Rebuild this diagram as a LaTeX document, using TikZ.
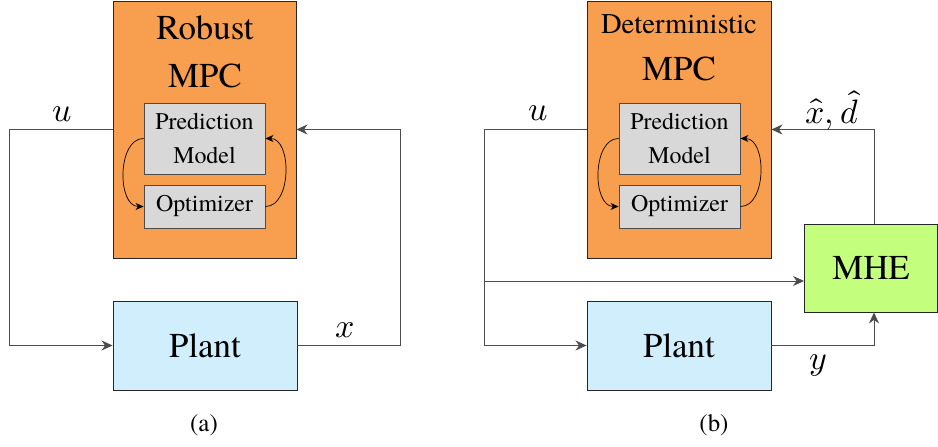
\documentclass[tikz,border=0pt]{standalone}
\usepackage{fontspec}
\usepackage{unicode-math}
\setmainfont{TeX Gyre Termes}
\newfontfamily\serifA{TeX Gyre Termes}
\setmathfont{Latin Modern Math}
\usetikzlibrary{arrows.meta}
\definecolor{mpcorange}{RGB}{247,158,79}
\definecolor{plantblue}{RGB}{209,238,252}
\definecolor{mhegreen}{RGB}{195,254,124}
\definecolor{subgray}{RGB}{216,216,216}
\tikzset{
  bigbox/.style={draw=black!85, line width=0.9bp, inner sep=0pt},
  subbox/.style={draw=black!70, fill=subgray, line width=0.9bp, inner sep=0pt, minimum width=121bp, font=\serifA\fontsize{24}{34}\selectfont, align=center},
  conn/.style={draw=black!70, line width=0.9bp},
  arr/.style={conn, -{Stealth[length=11bp,width=10bp,inset=3.5bp]}},
  carr/.style={draw=black, line width=0.7bp, -{Stealth[length=8bp,width=7bp,inset=2.5bp]}},
  titletext/.style={inner sep=0pt, font=\serifA\fontsize{35}{40}\selectfont},
  sigtext/.style={inner sep=0pt, font=\fontsize{34}{40}\selectfont},
  captext/.style={inner sep=0pt, font=\serifA\fontsize{25}{30}\selectfont}
}
\begin{document}
\begin{tikzpicture}[x=1bp,y=-1bp]
\useasboundingbox (0,0) rectangle (938,447);
% ---------- (a) ----------
\node[bigbox, fill=mpcorange, minimum width=183bp, minimum height=257bp] (mpcA) at (204.5,129.5) {};
\node[titletext] (tA1) at (205,28) {Robust};
\node[titletext] (tA2) at (205,76) {MPC};
\node[subbox, minimum height=71bp] (pmA) at (204.5,138.5) {Prediction\\Model};
\node[subbox, minimum height=43bp] (opA) at (204.5,206.5) {Optimizer};
\draw[carr] (pmA.west) to[out=180,in=180] (opA.west);
\draw[carr] (opA.east) to[out=0,in=0] (pmA.east);
\node[bigbox, fill=plantblue, minimum width=184bp, minimum height=89bp, font=\serifA\fontsize{35}{40}\selectfont] (plantA) at (205,345.5) {Plant};
\coordinate (la1) at (9,129.5);
\coordinate (la2) at (9,345.5);
\coordinate (ra1) at (400,129.5);
\coordinate (ra2) at (400,345.5);
\draw[arr] (mpcA.west) -- (la1) -- (la2) -- (plantA.west);
\draw[arr] (plantA.east) -- (ra2) -- (ra1) -- (mpcA.east);
\node[sigtext] (uA) at (62,114) {$u$};
\node[sigtext] (xA) at (345,330) {$x$};
\node[captext] (capA) at (204,425) {(a)};
% ---------- (b) ----------
\node[bigbox, fill=mpcorange, minimum width=184bp, minimum height=257bp] (mpcB) at (679,129.5) {};
\node[inner sep=0pt, font=\serifA\fontsize{28.7}{33}\selectfont] (tB1) at (679,24) {Deterministic};
\node[titletext] (tB2) at (679,69) {MPC};
\node[subbox, minimum height=71bp] (pmB) at (679.5,138.5) {Prediction\\Model};
\node[subbox, minimum height=43bp] (opB) at (679.5,206.5) {Optimizer};
\draw[carr] (pmB.west) to[out=180,in=180] (opB.west);
\draw[carr] (opB.east) to[out=0,in=0] (pmB.east);
\node[bigbox, fill=plantblue, minimum width=184bp, minimum height=89bp, font=\serifA\fontsize{35}{40}\selectfont] (plantB) at (679,345.5) {Plant};
\node[bigbox, fill=mhegreen, minimum width=133bp, minimum height=88bp, font=\serifA\fontsize{35}{40}\selectfont] (mhe) at (871,268) {MHE};
\coordinate (lb1) at (484,129.5);
\coordinate (lb2) at (484,345.5);
\coordinate (lb3) at (484,281);
\coordinate (rb1) at (874,129.5);
\coordinate (rb2) at (874,345.5);
\draw[arr] (mpcB.west) -- (lb1) -- (lb2) -- (plantB.west);
\draw[arr] (lb3) -- (lb3 -| mhe.west);
\draw[arr] (rb1 |- mhe.north) -- (rb1) -- (mpcB.east);
\draw[arr] (plantB.east) -- (rb2) -- (rb2 |- mhe.south);
\node[sigtext] (uB) at (538,113) {$u$};
\node[sigtext] (xdB) at (832,110) {$\widehat{x},\widehat{d}$};
\node[sigtext] (yB) at (818,365) {$y$};
\node[captext] (capB) at (714,425) {(b)};
\end{tikzpicture}
\end{document}
